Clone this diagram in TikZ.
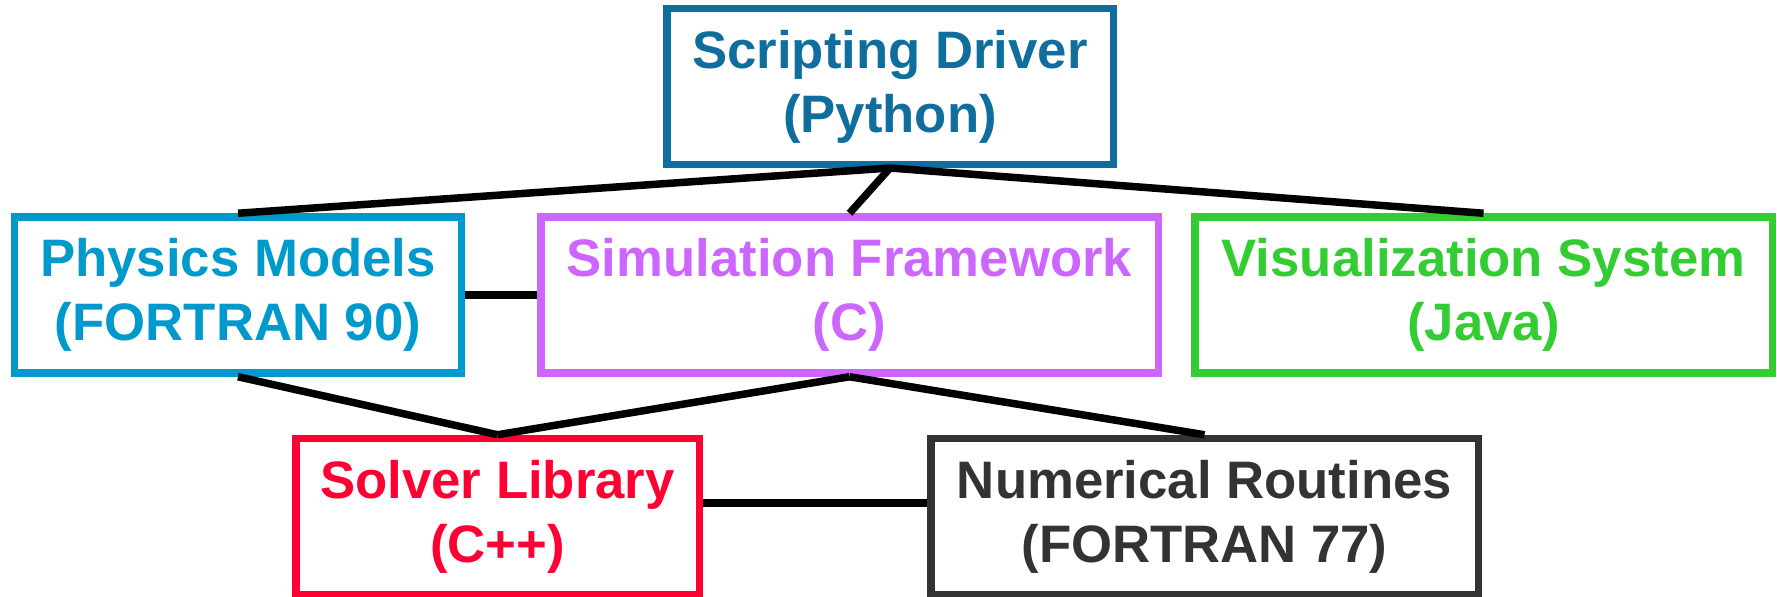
\documentclass[tikz,border=0pt]{standalone}
\usepackage{xcolor}
\usepackage{fontspec}
\setmainfont{Liberation Sans}
\usepackage{tikz}

\definecolor{scriptBlue}{HTML}{106E9E}
\definecolor{physBlue}{HTML}{0099CC}
\definecolor{simViolet}{HTML}{CC66FF}
\definecolor{visGreen}{HTML}{33CC33}
\definecolor{solverRed}{HTML}{FF0033}
\definecolor{numGrey}{HTML}{333333}

\begin{document}
\begin{tikzpicture}[
	box/.style={rectangle,draw,line width=0.15cm,inner sep=0pt,align=center,minimum height=3.12cm,font=\fontsize{30}{36.4}\selectfont\bfseries},
	link/.style={line width=0.15cm,black}]
	\useasboundingbox (0,0) rectangle (35.54,-11.92);
	\node[box,draw=scriptBlue,text=scriptBlue,minimum width=8.93cm,minimum height=3.11cm] (scriptDriver) at (17.80,-1.73) {Scripting Driver \\ (Python)};
	\node[box,draw=physBlue,text=physBlue,minimum width=8.93cm] (physModels) at (4.76,-5.90) {Physics Models \\ (FORTRAN 90)};
	\node[box,draw=simViolet,text=simViolet,minimum width=12.35cm] (simFrame) at (16.99,-5.90) {Simulation Framework \\ (C)};
	\node[box,draw=visGreen,text=visGreen,minimum width=11.55cm] (visSystem) at (29.67,-5.90) {Visualization System \\ (Java)};
	\node[box,draw=solverRed,text=solverRed,minimum width=8.07cm] (solverLib) at (9.95,-10.33) {Solver Library \\ (C++)};
	\node[box,draw=numGrey,text=numGrey,minimum width=10.95cm] (numRoutines) at (24.09,-10.33) {Numerical Routines \\ (FORTRAN 77)};

\draw[link](scriptDriver.south) -- (physModels.north);
\draw[link](scriptDriver.south) -- (simFrame.north);
\draw[link](scriptDriver.south) -- (visSystem.north);
\draw[link](physModels.east) -- (simFrame.west);
\draw[link](physModels.south) -- (solverLib.north);
\draw[link](simFrame.south) -- (solverLib.north);
\draw[link](simFrame.south) -- (numRoutines.north);
\draw[link]([yshift=0.27cm]solverLib.east) -- ([yshift=0.27cm]numRoutines.west);

\end{tikzpicture}
\end{document}
